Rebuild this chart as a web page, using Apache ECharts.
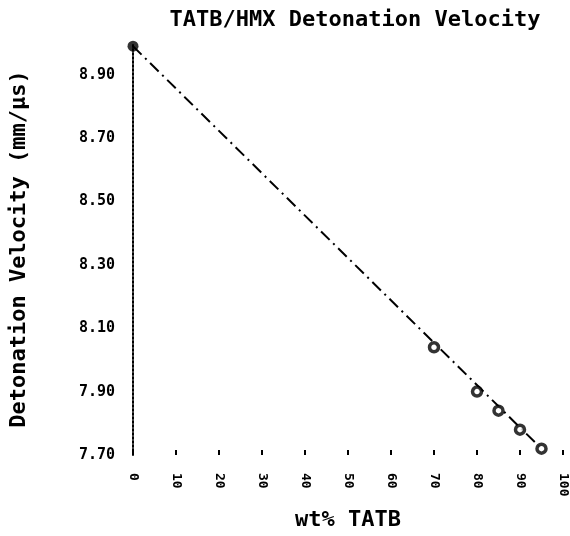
<!DOCTYPE html>
<html>
<head>
<meta charset="utf-8">
<script src="https://cdn.jsdelivr.net/npm/echarts@6/dist/echarts.min.js"></script>
<style>
  html, body { margin: 0; padding: 0; background: #fff; }
  #chart { width: 570px; height: 536px; }
</style>
</head>
<body>
<div id="chart"></div>
<script>
// wt% TATB of measured points and detonation velocity (mm/us)
const hmxPoint = [[0, 8.99]]
const tatbWt = [70, 80, 85, 90, 95]
const velocity = [8.04, 7.90, 7.84, 7.78, 7.72]
// straight fit drawn through the points
const fitX = [0, 95]
const fitY = [8.99, 7.72]

const font = 'DejaVu Sans Mono'

const chart = echarts.init(document.getElementById('chart'))
const option = {
  backgroundColor: '#fff',
  animation: false,
  title: {
    text: 'TATB/HMX Detonation Velocity',
    left: 350,
    textAlign: 'center',
    top: 4,
    textStyle: { fontFamily: font, fontSize: 22, fontWeight: 'bold', color: '#000' }
  },
  grid: { left: 133, right: 7, top: 43, bottom: 77 },
  xAxis: {
    type: 'value',
    min: 0,
    max: 100,
    interval: 10,
    name: 'wt% TATB',
    nameLocation: 'middle',
    nameGap: 54,
    nameTextStyle: { fontFamily: font, fontSize: 22, fontWeight: 'bold', color: '#000' },
    axisLine: { show: false },
    axisTick: { show: true, length: 5, inside: true, lineStyle: { color: '#000', width: 2 } },
    splitLine: { show: false },
    axisLabel: {
      rotate: -90,
      margin: 18,
      fontFamily: font,
      fontSize: 13,
      fontWeight: 'bold',
      color: '#000'
    }
  },
  yAxis: {
    type: 'value',
    min: 7.7,
    max: 9.0,
    interval: 0.2,
    name: 'Detonation Velocity (mm/µs)',
    nameLocation: 'middle',
    nameGap: 103,
    nameTextStyle: { fontFamily: font, fontSize: 22, fontWeight: 'bold', color: '#000' },
    axisLine: { show: true, lineStyle: { color: '#000', width: 2, type: 'dotted' } },
    axisTick: { show: false },
    splitLine: { show: false },
    axisLabel: {
      showMaxLabel: false,
      margin: 18,
      fontFamily: font,
      fontSize: 15,
      fontWeight: 'bold',
      color: '#000',
      formatter: v => v.toFixed(2)
    }
  },
  series: [
    {
      type: 'line',
      data: fitX.map((x, i) => [x, fitY[i]]),
      showSymbol: false,
      lineStyle: { color: '#000', width: 2, type: [12, 5, 2, 5] },
      z: 1
    },
    {
      type: 'scatter',
      data: hmxPoint,
      symbol: 'circle',
      symbolSize: 11,
      itemStyle: { color: '#000' },
      z: 3
    },
    {
      type: 'scatter',
      data: tatbWt.map((x, i) => [x, velocity[i]]),
      symbol: 'circle',
      symbolSize: 9,
      itemStyle: { color: '#fff', borderColor: '#000', borderWidth: 3.5 },
      z: 3
    }
  ]
}
chart.setOption(option)
</script>
</body>
</html>
